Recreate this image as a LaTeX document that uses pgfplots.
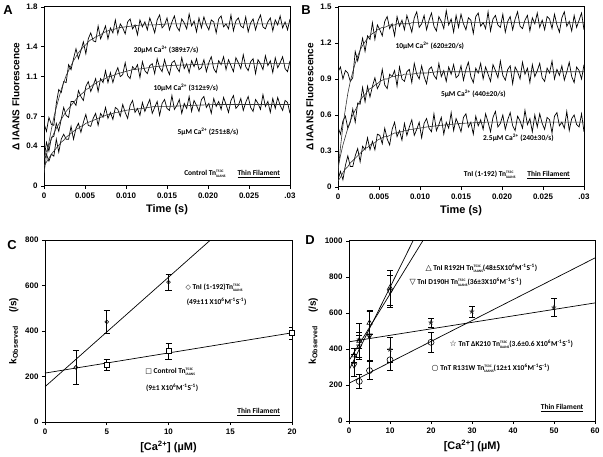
\documentclass[border=0pt]{standalone}
\usepackage{fontspec}
\setmainfont{Liberation Sans}
\newfontfamily\calb{Carlito}
\newfontfamily\symf{DejaVu Sans}
\usepackage{pgfplots}
\usepackage{pgfplotstable}
\pgfplotsset{compat=1.18}
\newcommand{\tn}{Tn\rlap{\raisebox{0.85ex}{\fontsize{3.6}{4}\selectfont T53C}}\raisebox{-0.6ex}{\fontsize{3.6}{4}\selectfont IAANS}}
\newcommand{\ann}{\calb\bfseries\fontsize{7.5}{8}\selectfont}

\pgfplotstableread{
t a1 a2 a3
0.0 0.63 0.27 0.25
0.3 0.55 0.44 0.32
0.6 0.69 0.35 0.25
0.9 0.62 0.49 0.32
1.2 0.61 0.50 0.30
1.5 0.83 0.63 0.47
1.8 0.97 0.55 0.34
2.1 0.94 0.67 0.47
2.4 1.05 0.79 0.52
2.7 1.04 0.71 0.47
3.0 1.22 0.69 0.47
3.3 1.17 0.85 0.60
3.6 1.28 0.85 0.47
3.9 1.38 0.81 0.58
4.2 1.28 0.96 0.63
4.5 1.36 0.90 0.54
4.8 1.45 0.86 0.64
5.1 1.33 1.00 0.72
5.4 1.48 1.05 0.61
5.7 1.54 0.95 0.60
6.0 1.46 1.01 0.68
6.3 1.45 1.08 0.73
6.6 1.61 0.95 0.61
6.9 1.48 1.08 0.73
7.2 1.54 1.04 0.69
7.5 1.61 1.16 0.79
7.8 1.48 1.04 0.68
8.1 1.59 1.14 0.74
8.4 1.54 1.04 0.67
8.7 1.67 1.13 0.79
9.0 1.53 1.19 0.77
9.3 1.63 1.10 0.70
9.6 1.59 1.12 0.82
9.9 1.53 1.24 0.74
10.2 1.65 1.11 0.68
10.5 1.68 1.08 0.81
10.8 1.58 1.20 0.86
11.1 1.62 1.17 0.74
11.4 1.52 1.22 0.78
11.7 1.67 1.09 0.71
12.0 1.60 1.25 0.84
12.3 1.65 1.16 0.75
12.6 1.57 1.13 0.81
12.9 1.69 1.21 0.87
13.2 1.62 1.23 0.73
13.5 1.54 1.13 0.79
13.8 1.67 1.28 0.85
14.1 1.72 1.19 0.71
14.4 1.59 1.15 0.83
14.7 1.62 1.27 0.87
15.0 1.69 1.18 0.78
15.3 1.57 1.12 0.76
15.6 1.65 1.24 0.91
15.9 1.71 1.26 0.77
16.2 1.60 1.19 0.81
16.5 1.56 1.15 0.87
16.8 1.68 1.29 0.73
17.1 1.64 1.18 0.83
17.4 1.58 1.23 0.78
17.7 1.73 1.14 0.90
18.0 1.61 1.26 0.75
18.3 1.66 1.20 0.86
18.6 1.55 1.28 0.81
18.9 1.69 1.17 0.75
19.2 1.59 1.19 0.87
19.5 1.70 1.27 0.90
19.8 1.62 1.15 0.79
20.1 1.57 1.24 0.83
20.4 1.67 1.30 0.73
20.7 1.65 1.18 0.88
21.0 1.54 1.14 0.80
21.3 1.68 1.26 0.85
21.6 1.71 1.22 0.77
21.9 1.60 1.30 0.89
22.2 1.63 1.17 0.82
22.5 1.58 1.27 0.74
22.8 1.72 1.21 0.86
23.1 1.56 1.15 0.91
23.4 1.66 1.29 0.78
23.7 1.69 1.24 0.81
24.0 1.61 1.18 0.88
24.3 1.59 1.32 0.76
24.6 1.70 1.20 0.84
24.9 1.55 1.16 0.90
25.2 1.64 1.25 0.79
25.5 1.68 1.28 0.75
25.8 1.57 1.13 0.87
26.1 1.66 1.27 0.83
26.4 1.72 1.23 0.77
26.7 1.60 1.17 0.92
27.0 1.58 1.31 0.80
27.3 1.65 1.21 0.85
27.6 1.69 1.26 0.74
27.9 1.56 1.14 0.88
28.2 1.67 1.29 0.78
28.5 1.62 1.19 0.89
28.8 1.71 1.24 0.81
29.1 1.59 1.30 0.76
29.4 1.65 1.18 0.86
29.7 1.57 1.15 0.84
30.0 1.68 1.26 0.73
}\dataA

\pgfplotstableread{
t b1 b2 b3
0.0 0.96 0.50 0.06
0.3 1.00 0.44 0.13
0.6 0.90 0.55 0.06
0.9 0.97 0.59 0.18
1.2 0.95 0.49 0.26
1.5 0.88 0.54 0.17
1.8 0.91 0.65 0.17
2.1 1.13 0.54 0.26
2.4 1.05 0.70 0.32
2.7 1.14 0.69 0.21
3.0 1.24 0.83 0.34
3.3 1.13 0.71 0.31
3.6 1.26 0.84 0.41
3.9 1.23 0.75 0.31
4.2 1.37 0.84 0.38
4.5 1.23 0.91 0.31
4.8 1.35 0.82 0.44
5.1 1.31 0.86 0.43
5.4 1.26 0.98 0.36
5.7 1.38 0.85 0.49
6.0 1.42 0.82 0.40
6.3 1.32 0.94 0.35
6.6 1.36 0.92 0.48
6.9 1.26 0.97 0.54
7.2 1.42 0.84 0.42
7.5 1.34 1.00 0.47
7.8 1.39 0.90 0.39
8.1 1.31 0.88 0.53
8.4 1.43 0.96 0.43
8.7 1.36 0.98 0.50
9.0 1.29 0.87 0.56
9.3 1.41 1.03 0.43
9.6 1.46 0.94 0.48
9.9 1.33 0.90 0.54
10.2 1.36 1.01 0.41
10.5 1.43 0.92 0.53
10.8 1.31 0.86 0.57
11.1 1.39 0.98 0.49
11.4 1.45 1.00 0.46
11.7 1.34 0.93 0.61
12.0 1.30 0.90 0.47
12.3 1.42 1.03 0.52
12.6 1.38 0.92 0.58
12.9 1.32 0.97 0.44
13.2 1.47 0.88 0.54
13.5 1.35 1.00 0.49
13.8 1.40 0.94 0.62
14.1 1.29 1.02 0.47
14.4 1.43 0.91 0.57
14.7 1.33 0.93 0.52
15.0 1.44 1.01 0.46
15.3 1.36 0.89 0.58
15.6 1.31 0.98 0.61
15.9 1.41 1.04 0.50
16.2 1.39 0.92 0.54
16.5 1.28 0.87 0.44
16.8 1.42 0.99 0.59
17.1 1.45 0.95 0.51
17.4 1.34 1.03 0.56
17.7 1.37 0.90 0.48
18.0 1.32 1.00 0.61
18.3 1.46 0.94 0.54
18.6 1.30 0.88 0.46
18.9 1.40 1.02 0.58
19.2 1.43 0.97 0.63
19.5 1.35 0.91 0.50
19.8 1.33 1.05 0.53
20.1 1.44 0.93 0.60
20.4 1.29 0.89 0.48
20.7 1.38 0.98 0.56
21.0 1.42 1.01 0.62
21.3 1.31 0.86 0.51
21.6 1.40 1.00 0.47
21.9 1.46 0.96 0.59
22.2 1.34 0.90 0.55
22.5 1.32 1.04 0.49
22.8 1.39 0.94 0.64
23.1 1.43 0.99 0.52
23.4 1.30 0.87 0.57
23.7 1.41 1.02 0.46
24.0 1.36 0.92 0.60
24.3 1.45 0.97 0.50
24.6 1.33 1.03 0.61
24.9 1.39 0.91 0.53
25.2 1.31 0.88 0.48
25.5 1.42 0.99 0.58
25.8 1.40 0.95 0.56
26.1 1.32 1.05 0.45
26.4 1.44 0.90 0.59
26.7 1.35 0.98 0.62
27.0 1.29 0.93 0.51
27.3 1.41 1.01 0.54
27.6 1.46 0.89 0.49
27.9 1.34 0.96 0.63
28.2 1.38 1.04 0.47
28.5 1.30 0.92 0.57
28.8 1.43 0.87 0.60
29.1 1.33 1.00 0.52
29.4 1.39 0.97 0.50
29.7 1.45 0.90 0.61
30.0 1.31 1.02 0.46
}\dataB

\pgfplotstableread{
t f1 f2 f3 g1 g2 g3
0.0 0.13 0.28 0.20 0.12 0.16 0.05
0.3 0.30 0.35 0.24 0.33 0.26 0.08
0.6 0.44 0.41 0.28 0.51 0.35 0.12
0.9 0.57 0.47 0.32 0.65 0.42 0.15
1.2 0.69 0.53 0.35 0.78 0.49 0.17
1.5 0.79 0.58 0.38 0.88 0.55 0.20
1.8 0.88 0.62 0.41 0.96 0.60 0.22
2.1 0.97 0.67 0.44 1.03 0.64 0.24
2.4 1.04 0.71 0.46 1.09 0.68 0.26
2.7 1.11 0.75 0.49 1.14 0.72 0.28
3.0 1.16 0.78 0.51 1.18 0.75 0.30
3.3 1.21 0.81 0.53 1.21 0.77 0.32
3.6 1.26 0.84 0.55 1.24 0.80 0.33
3.9 1.30 0.87 0.57 1.26 0.82 0.35
4.2 1.34 0.90 0.58 1.28 0.83 0.36
4.5 1.37 0.92 0.60 1.29 0.85 0.37
4.8 1.40 0.94 0.61 1.31 0.86 0.39
5.1 1.42 0.97 0.63 1.32 0.88 0.40
5.4 1.45 0.98 0.64 1.33 0.89 0.41
5.7 1.47 1.00 0.65 1.33 0.90 0.42
6.0 1.48 1.02 0.66 1.34 0.90 0.42
6.3 1.50 1.03 0.67 1.35 0.91 0.43
6.6 1.51 1.05 0.68 1.35 0.92 0.44
6.9 1.52 1.06 0.69 1.35 0.92 0.45
7.2 1.54 1.07 0.70 1.36 0.93 0.45
7.5 1.55 1.08 0.71 1.36 0.93 0.46
7.8 1.56 1.10 0.72 1.36 0.93 0.46
8.1 1.57 1.10 0.72 1.36 0.94 0.47
8.4 1.57 1.11 0.73 1.36 0.94 0.47
8.7 1.58 1.12 0.74 1.36 0.94 0.48
9.0 1.59 1.13 0.74 1.37 0.94 0.48
9.9 1.60 1.15 0.76 1.37 0.95 0.49
10.8 1.61 1.17 0.77 1.37 0.95 0.50
12.0 1.62 1.18 0.78 1.37 0.96 0.51
13.5 1.62 1.20 0.80 1.37 0.96 0.52
15.0 1.63 1.21 0.80 1.37 0.96 0.53
18.0 1.63 1.22 0.81 1.37 0.96 0.54
21.0 1.63 1.23 0.82 1.37 0.96 0.54
25.5 1.63 1.23 0.82 1.37 0.96 0.54
30.0 1.63 1.23 0.82 1.37 0.96 0.54
}\fits

\pgfplotsset{
  base/.style={
    scale only axis, width=246bp, height=179bp, anchor=south west,
    axis line style={line width=1pt}, tick align=outside,
    xtick pos=left, ytick pos=left, major tick length=3bp,
    tick style={line width=0.8pt, black},
    ticklabel style={font=\bfseries\fontsize{8}{9}\selectfont},
    /pgf/number format/assume math mode=true,
    /pgf/number format/1000 sep={},
    xlabel style={font=\bfseries\fontsize{11}{12}\selectfont},
    ylabel style={font=\bfseries\fontsize{10}{11}\selectfont},
    clip mode=individual, enlargelimits=false,
  },
  trace/.style={black, line width=0.7pt},
  fitl/.style={black!80, line width=0.6pt},
  eb/.style={error bars/.cd, y dir=both, y explicit,
    error bar style={line width=0.6pt, black},
    error mark options={rotate=90, mark size=3bp, line width=0.6pt, black}},
}

\begin{document}
\begin{tikzpicture}
\useasboundingbox (0,0) rectangle (603bp,457bp);

% ---------- A ----------
\begin{axis}[base, at={(44bp,271bp)},
  xmin=0, xmax=30, ymin=0, ymax=1.8,
  xtick={0,5,10,15,20,25,30},
  xticklabels={0,0.005,0.010,0.015,0.020,0.025,.03},
  ytick={0,0.4,0.7,1.1,1.4,1.8},
  yticklabels={0,0.4,0.7,1.1,1.4,1.8},
  xlabel={Time (s)}, ylabel={Δ IAANS Fluorescence}]
\addplot[trace] table[x=t, y=a1] {\dataA};
\addplot[trace] table[x=t, y=a2] {\dataA};
\addplot[trace] table[x=t, y=a3] {\dataA};
\addplot[fitl] table[x=t, y=f1] {\fits};
\addplot[fitl] table[x=t, y=f2] {\fits};
\addplot[fitl] table[x=t, y=f3] {\fits};
\node[font=\ann] at (axis cs:14.9,1.37) {20µM Ca\textsuperscript{2+} (389±7/s)};
\node[font=\ann] at (axis cs:17.3,0.985) {10µM Ca\textsuperscript{2+} (312±9/s)};
\node[font=\ann] at (axis cs:20.0,0.543) {5µM Ca\textsuperscript{2+} (251±8/s)};
\node[font=\ann, anchor=east] at (axis cs:29.2,0.12) {Control \tn\hspace{1.6em}\underline{Thin Filament}};
\end{axis}

% ---------- B ----------
\begin{axis}[base, at={(338bp,270bp)}, height=180bp,
  xmin=0, xmax=30, ymin=0, ymax=1.5,
  xtick={0,5,10,15,20,25,30},
  xticklabels={0,0.005,0.010,0.015,0.020,0.025,.03},
  ytick={0,0.3,0.6,0.9,1.2,1.5},
  yticklabels={0,0.3,0.6,0.9,1.2,1.5},
  xlabel={Time (s)}, ylabel={Δ IAANS Fluorescence}]
\addplot[trace] table[x=t, y=b1] {\dataB};
\addplot[trace] table[x=t, y=b2] {\dataB};
\addplot[trace] table[x=t, y=b3] {\dataB};
\addplot[fitl] table[x=t, y=g1] {\fits};
\addplot[fitl] table[x=t, y=g2] {\fits};
\addplot[fitl] table[x=t, y=g3] {\fits};
\node[font=\ann] at (axis cs:11.2,1.18) {10µM Ca\textsuperscript{2+} (620±20/s)};
\node[font=\ann] at (axis cs:16.5,0.78) {5µM Ca\textsuperscript{2+} (440±20/s)};
\node[font=\ann] at (axis cs:22.0,0.41) {2.5µM Ca\textsuperscript{2+} (240±30/s)};
\node[font=\ann, anchor=east] at (axis cs:28.7,0.10) {TnI (1-192) \tn\hspace{1.6em}\underline{Thin Filament}};
\end{axis}

% ---------- C ----------
\begin{axis}[base, at={(45bp,35bp)}, width=247bp, height=182bp,
  xmin=0, xmax=20, ymin=0, ymax=800,
  xtick={0,5,10,15,20}, ytick={0,200,400,600,800},
  xlabel={[Ca\textsuperscript{2+}] (µM)},
  ylabel={k\ensuremath{_{\mbox{\fontsize{7}{8}\selectfont\bfseries Observed}}}\hspace{1.3em}(/s)}]
\addplot[black, line width=0.7pt] coordinates {(0,155) (13.4,800)};
\addplot[black, line width=0.7pt] coordinates {(0,215) (20,392)};
\addplot[only marks, mark=square*, mark size=2.5bp,
  mark options={fill=white, draw=black, line width=0.6pt}, eb]
  coordinates {(5,252) +- (0,25) (10,312) +- (0,35) (20,390) +- (0,25)};
\addplot[only marks, mark=o, mark size=1.9bp,
  mark options={fill=white, draw=black, line width=0.6pt}, eb]
  coordinates {(2.5,240) +- (0,75) (5,440) +- (0,50) (10,615) +- (0,35)};
\node[font=\ann, anchor=west] at (axis cs:11.1,589) {{\symf\fontsize{7}{8}\selectfont ◇} TnI (1-192)\tn};
\node[font=\ann, anchor=west] at (axis cs:11.2,530) {(49±11 X10\textsuperscript{6}M\textsuperscript{-1}S\textsuperscript{-1})};
\node[font=\ann, anchor=west] at (axis cs:7.85,222) {{\symf\fontsize{7}{8}\selectfont □} Control \tn};
\node[font=\ann, anchor=west] at (axis cs:7.9,149) {(9±1 X10\textsuperscript{6}M\textsuperscript{-1}S\textsuperscript{-1})};
\node[font=\ann, anchor=east] at (axis cs:19.3,44) {\underline{Thin Filament}};
\end{axis}

% ---------- D ----------
\begin{axis}[base, at={(349bp,36bp)}, width=246bp, height=180bp,
  xmin=0, xmax=60, ymin=0, ymax=1000,
  xtick={0,10,20,30,40,50,60}, ytick={0,200,400,600,800,1000},
  xlabel={[Ca\textsuperscript{2+}] (µM)},
  ylabel={k\ensuremath{_{\mbox{\fontsize{7}{8}\selectfont\bfseries Observed}}}\hspace{1.3em}(/s)}]
\addplot[black, line width=0.7pt] coordinates {(0,283) (15.6,1000)};
\addplot[black, line width=0.7pt] coordinates {(0,335) (17.97,1000)};
\addplot[black, line width=0.7pt] coordinates {(0,440) (60,656)};
\addplot[black, line width=0.7pt] coordinates {(0,210) (60,906)};
\addplot[only marks, mark=o, mark size=3bp,
  mark options={fill=white, draw=black, line width=0.6pt}, eb]
  coordinates {(2.5,220) +- (0,40) (5,280) +- (0,50) (10,340) +- (0,60) (20,437) +- (0,55)};
\addplot[only marks, mark=text, text mark={★}, text mark as node=true,
  text mark style={font=\symf\fontsize{7.5}{8}\selectfont, text=black!85}, eb]
  coordinates {(2.5,450) +- (0,45) (5,470) +- (0,140) (10,395) +- (0,70) (20,545) +- (0,25) (30,605) +- (0,30) (50,630) +- (0,50)};
\addplot[only marks, mark=triangle, mark size=3bp,
  mark options={fill=white, draw=black, line width=0.6pt}, eb]
  coordinates {(1.25,365) +- (0,40) (2.5,445) +- (0,100) (5,545) +- (0,65) (10,740) +- (0,100)};
\addplot[only marks, mark=triangle, mark size=3bp,
  mark options={fill=white, draw=black, line width=0.6pt, rotate=180}, eb]
  coordinates {(1.25,310) +- (0,60) (2.5,415) +- (0,60) (5,475) +- (0,140) (10,720) +- (0,90)};
\node[font=\ann, anchor=west] at (axis cs:17.8,850) {{\symf\fontsize{8}{8}\selectfont △} TnI R192H \tn(48±5X10\textsuperscript{6}M\textsuperscript{-1}S\textsuperscript{-1})};
\node[font=\ann, anchor=west] at (axis cs:13.9,772) {{\symf\fontsize{8}{8}\selectfont ▽} TnI D190H \tn(36±3X10\textsuperscript{6}M\textsuperscript{-1}S\textsuperscript{-1})};
\node[font=\ann, anchor=west] at (axis cs:23.7,428) {{\symf\fontsize{8}{8}\selectfont ☆} TnT ΔK210 \tn(3.6±0.6 X10\textsuperscript{6}M\textsuperscript{-1}S\textsuperscript{-1})};
\node[font=\ann, anchor=west] at (axis cs:19.3,294) {{\symf\fontsize{8}{8}\selectfont ○} TnT R131W \tn(12±1 X10\textsuperscript{6}M\textsuperscript{-1}S\textsuperscript{-1})};
\node[font=\ann, anchor=east] at (axis cs:58,72) {\underline{Thin Filament}};
\end{axis}

% panel letters
\node[font=\bfseries\fontsize{13}{14}\selectfont] at (8bp,447bp) {A};
\node[font=\bfseries\fontsize{13}{14}\selectfont] at (306bp,447bp) {B};
\node[font=\bfseries\fontsize{13}{14}\selectfont] at (12bp,212bp) {C};
\node[font=\bfseries\fontsize{13}{14}\selectfont] at (310bp,217bp) {D};
\end{tikzpicture}
\end{document}
